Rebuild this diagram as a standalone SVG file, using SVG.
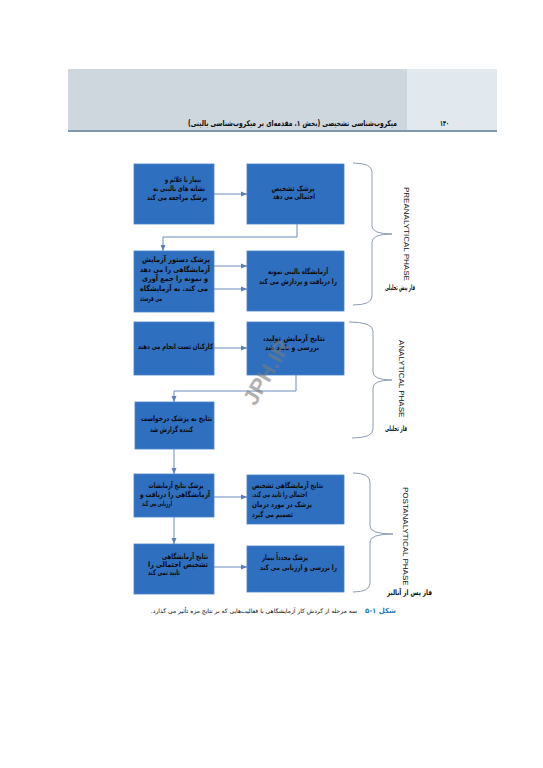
<svg xmlns="http://www.w3.org/2000/svg" width="543" height="768" viewBox="0 0 543 768">
<style>
.box{fill:#2f6fc0;stroke:#4a82c8;stroke-width:0.8}
.fa{font-family:"DejaVu Sans","Noto Sans",sans-serif;font-size:7.5px;font-weight:bold;fill:#0a0a0a;direction:rtl;text-anchor:middle}
.en{font-family:"Liberation Sans",Arial,sans-serif;font-size:8px;fill:#111}
.con{fill:none;stroke:#6a8cc0;stroke-width:1}
.brace{fill:none;stroke:#8c9db3;stroke-width:1}
</style>
<defs>
<marker id="ah" markerUnits="userSpaceOnUse" markerWidth="6" markerHeight="6" refX="6" refY="3" orient="auto">
<path d="M0,0.5 L6,3 L0,5.5 z" fill="#5a7fb8"/>
</marker>
</defs>
<rect width="543" height="768" fill="#fff"/>
<g id="header">
<rect x="68" y="69" width="339" height="62" fill="#cfd7de"/>
<rect x="407" y="69" width="90" height="62" fill="#e2e9ee"/>
<rect x="68" y="130" width="429" height="2" fill="#7f97aa"/>
<text class="fa" x="292.5" y="126" textLength="209" lengthAdjust="spacingAndGlyphs" style="font-size:8px">میکروب‌شناسی تشخیصی (بخش ۱. مقدمه‌ای بر میکروب‌شناسی بالینی)</text>
<text class="fa" x="444.5" y="126" textLength="9" lengthAdjust="spacingAndGlyphs" style="font-size:8px">۱۴۰</text>
</g>
<g id="connectors">
<path class="con" d="M214,194 H247" marker-end="url(#ah)"/>
<path class="con" d="M297,224 V237 H163 V251" marker-end="url(#ah)"/>
<path class="con" d="M214,266 H247" marker-end="url(#ah)"/>
<path class="con" d="M214,289 H247" marker-end="url(#ah)"/>
<path class="con" d="M214,348 H247" marker-end="url(#ah)"/>
<path class="con" d="M296,375 V391 H174 V402" marker-end="url(#ah)"/>
<path class="con" d="M174,449 V474" marker-end="url(#ah)"/>
<path class="con" d="M214,497 H247" marker-end="url(#ah)"/>
<path class="con" d="M174,517 V544" marker-end="url(#ah)"/>
<path class="con" d="M214,567 H247" marker-end="url(#ah)"/>
</g>
<g id="n1">
<rect class="box" x="134" y="164" width="80" height="60"/>
<text class="fa" x="183" y="182" textLength="36" lengthAdjust="spacingAndGlyphs">بیمار با علائم و</text>
<text class="fa" x="179" y="191" textLength="52" lengthAdjust="spacingAndGlyphs">نشانه های بالینی به</text>
<text class="fa" x="177" y="200" textLength="60" lengthAdjust="spacingAndGlyphs">پزشک مراجعه می کند</text>
</g>
<g id="n2">
<rect class="box" x="247" y="164" width="97" height="60"/>
<text class="fa" x="293" y="190.5" textLength="43" lengthAdjust="spacingAndGlyphs">پزشک تشخیص</text>
<text class="fa" x="294" y="199" textLength="42" lengthAdjust="spacingAndGlyphs">احتمالی می دهد</text>
</g>
<g id="n3">
<rect class="box" x="134" y="251" width="80" height="61"/>
<text class="fa" x="176" y="262" textLength="68" lengthAdjust="spacingAndGlyphs">پزشک دستور آزمایش</text>
<text class="fa" x="175" y="271.5" textLength="70" lengthAdjust="spacingAndGlyphs">آزمایشگاهی را می دهد</text>
<text class="fa" x="175" y="281" textLength="66" lengthAdjust="spacingAndGlyphs">و نمونه را جمع آوری</text>
<text class="fa" x="174" y="291" textLength="68" lengthAdjust="spacingAndGlyphs">می کند. به آزمایشگاه</text>
<text class="fa" x="151" y="301" textLength="22" lengthAdjust="spacingAndGlyphs">می فرستد</text>
</g>
<g id="n4">
<rect class="box" x="247" y="251" width="97" height="60"/>
<text class="fa" x="298" y="274" textLength="60" lengthAdjust="spacingAndGlyphs">آزمایشگاه بالینی نمونه</text>
<text class="fa" x="298" y="284" textLength="78" lengthAdjust="spacingAndGlyphs">را دریافت و پردازش می کند</text>
</g>
<g id="n5">
<rect class="box" x="134" y="322" width="80" height="53"/>
<text class="fa" x="175.5" y="349" textLength="75" lengthAdjust="spacingAndGlyphs">کارکنان تست انجام می دهند</text>
</g>
<g id="n6">
<rect class="box" x="247" y="322" width="97" height="53"/>
<text class="fa" x="294" y="341" textLength="62" lengthAdjust="spacingAndGlyphs">نتایج آزمایش تولید،</text>
<text class="fa" x="292" y="350" textLength="54" lengthAdjust="spacingAndGlyphs">بررسی و تایید شد</text>
</g>
<g id="n7">
<rect class="box" x="135" y="402" width="79" height="47"/>
<text class="fa" x="176.5" y="420.5" textLength="71" lengthAdjust="spacingAndGlyphs">نتایج به پزشک درخواست</text>
<text class="fa" x="171.5" y="431.5" textLength="43" lengthAdjust="spacingAndGlyphs">کننده گزارش شد</text>
</g>
<g id="n8">
<rect class="box" x="134" y="474" width="80" height="43"/>
<text class="fa" x="176" y="488" textLength="55" lengthAdjust="spacingAndGlyphs">پزشک نتایج آزمایشات</text>
<text class="fa" x="175" y="497" textLength="70" lengthAdjust="spacingAndGlyphs">آزمایشگاهی را دریافت و</text>
<text class="fa" x="157" y="506" textLength="30" lengthAdjust="spacingAndGlyphs">ارزیابی می کند</text>
</g>
<g id="n9">
<rect class="box" x="247" y="475" width="97" height="49"/>
<text class="fa" x="287.5" y="488" textLength="71" lengthAdjust="spacingAndGlyphs">نتایج آزمایشگاهی تشخیص</text>
<text class="fa" x="279.5" y="497" textLength="55" lengthAdjust="spacingAndGlyphs">احتمالی را تایید می کند.</text>
<text class="fa" x="282" y="507" textLength="60" lengthAdjust="spacingAndGlyphs">پزشک در مورد درمان</text>
<text class="fa" x="272.5" y="516.5" textLength="41" lengthAdjust="spacingAndGlyphs">تصمیم می گیرد</text>
</g>
<g id="n10">
<rect class="box" x="134" y="544" width="80" height="50"/>
<text class="fa" x="185" y="559" textLength="46" lengthAdjust="spacingAndGlyphs">نتایج آزمایشگاهی</text>
<text class="fa" x="178" y="567" textLength="60" lengthAdjust="spacingAndGlyphs">تشخیص احتمالی را</text>
<text class="fa" x="164" y="575" textLength="32" lengthAdjust="spacingAndGlyphs">تایید نمی کند</text>
</g>
<g id="n11">
<rect class="box" x="247" y="546" width="97" height="46"/>
<text class="fa" x="285" y="560" textLength="46" lengthAdjust="spacingAndGlyphs">پزشک مجدداً بیمار</text>
<text class="fa" x="298.5" y="569.5" textLength="77" lengthAdjust="spacingAndGlyphs">را بررسی و ارزیابی می کند</text>
</g>
<g id="phase-pre">
<path class="brace" d="M353,163 Q372,163 372,172 L372,226 Q372,234 392,234 Q372,234 372,242 L372,296 Q372,305 353,305"/>
<text class="en" transform="translate(403.5,187) rotate(90)">PREANALYTICAL PHASE</text>
<text class="fa" x="400" y="290" textLength="30" lengthAdjust="spacingAndGlyphs">فاز پیش تحلیلی</text>
</g>
<g id="phase-ana">
<path class="brace" d="M349,322 Q373,322 373,331 L373,372 Q373,380 392,380 Q373,380 373,388 L373,429 Q373,438 352,438"/>
<text class="en" transform="translate(398.5,340) rotate(90)">ANALYTICAL PHASE</text>
<text class="fa" x="396" y="430.5" textLength="22" lengthAdjust="spacingAndGlyphs">فاز تحلیلی</text>
</g>
<g id="phase-post">
<path class="brace" d="M353,473 Q370,473 370,482 L370,526 Q370,534 393,534 Q370,534 370,542 L370,583 Q370,592 353,592"/>
<text class="en" transform="translate(402.5,487) rotate(90)">POSTANALYTICAL PHASE</text>
<text class="fa" x="409.5" y="594.5" textLength="45" lengthAdjust="spacingAndGlyphs">فاز پس از آنالیز</text>
</g>
<g id="caption">
<text class="fa" x="396" y="613" style="text-anchor:start;fill:#2a7cc0;font-size:7px">شکل ۱-۵</text>
<text class="fa" x="357" y="613" style="text-anchor:start;font-size:6px;font-weight:normal">سه مرحله از گردش کار آزمایشگاهی با فعالیت‌هایی که بر نتایج مزه تأثیر می گذارد.</text>
</g>
<text x="266" y="380" transform="rotate(-60 266 372)" text-anchor="middle" font-family="Liberation Sans, Arial, sans-serif" font-weight="bold" font-size="22" fill="#7a7a7a" fill-opacity="0.6">JPH.IR</text>
</svg>
